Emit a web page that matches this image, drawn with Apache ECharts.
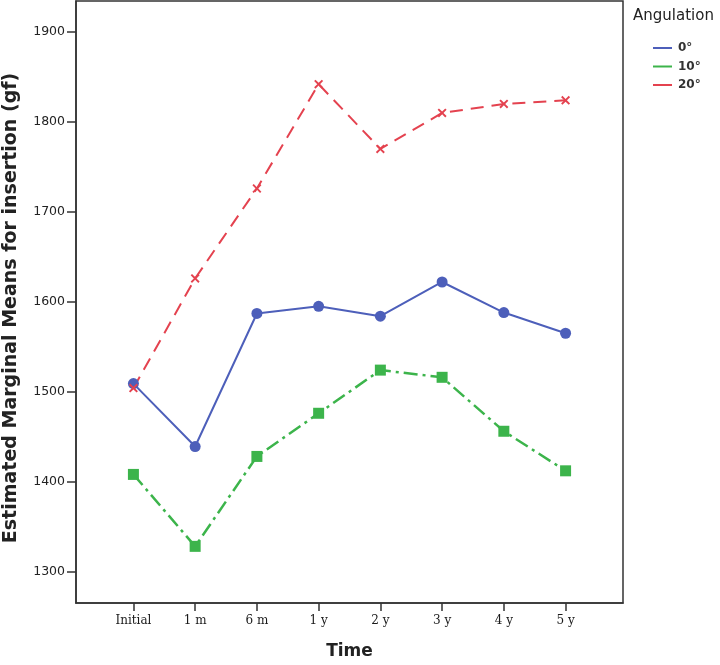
<!DOCTYPE html>
<html>
<head>
<meta charset="utf-8">
<script src="https://cdn.jsdelivr.net/npm/echarts@6/dist/echarts.min.js"></script>
<style>
html,body{margin:0;padding:0;background:#fff;}
#chart{width:720px;height:665px;}
</style>
</head>
<body>
<div id="chart"></div>
<script>
const categories = ['Initial', '1 m', '6 m', '1 y', '2 y', '3 y', '4 y', '5 y'];
const seriesNames = ['0°', '10°', '20°'];
const angle0 = [1509, 1439, 1587, 1595, 1584, 1622, 1588, 1565];
const angle10 = [1408, 1328, 1428, 1476, 1524, 1516, 1456, 1412];
const angle20 = [1504, 1626, 1726, 1842, 1770, 1810, 1820, 1824];
const yTicks = [1300, 1400, 1500, 1600, 1700, 1800, 1900];
const xTitle = 'Time';
const yTitle = 'Estimated Marginal Means for insertion (gf)';
const legendTitle = 'Angulation';

const BLUE = '#4d5fba';
const GREEN = '#3cb44b';
const RED = '#e4424f';
const catIdx = categories.map((c, i) => i);
const toPairs = arr => arr.map((v, i) => [i, v]);
const X_SYMBOL = 'path://M0,1.5 L1.5,0 L5,3.5 L8.5,0 L10,1.5 L6.5,5 L10,8.5 L8.5,10 L5,6.5 L1.5,10 L0,8.5 L3.5,5 Z';

const chart = echarts.init(document.getElementById('chart'), null, {renderer: 'canvas'});
chart.setOption({
  animation: false,
  backgroundColor: '#ffffff',
  grid: {left: 76, right: 97, top: 1, bottom: 56, show: true, borderColor: '#333', borderWidth: 1.5},
  xAxis: {
    type: 'value', min: -0.93, max: 7.93,
    splitLine: {show: false},
    axisLine: {show: true, onZero: false, lineStyle: {color: '#333', width: 1.5}},
    axisTick: {show: true, inside: false, length: 8, customValues: catIdx, lineStyle: {color: '#333', width: 1.5}},
    axisLabel: {customValues: catIdx, formatter: v => categories[Math.round(v)], margin: 12,
      fontFamily: 'DejaVu Serif', fontSize: 12, color: '#1a1a1a'},
    name: xTitle, nameLocation: 'middle', nameGap: 40,
    nameTextStyle: {fontFamily: 'DejaVu Sans', fontWeight: 'bold', fontSize: 17, color: '#222'}
  },
  yAxis: {
    type: 'value', min: 1265, max: 1934.5,
    splitLine: {show: false},
    axisLine: {show: true, onZero: false, lineStyle: {color: '#333', width: 1.5}},
    axisTick: {show: true, inside: false, length: 9, customValues: yTicks, lineStyle: {color: '#333', width: 1.5}},
    axisLabel: {customValues: yTicks, formatter: v => String(v), margin: 11,
      fontFamily: 'DejaVu Sans', fontSize: 12.5, color: '#222'}
  },
  legend: {
    orient: 'vertical', left: 648, top: 37, icon: 'rect', itemWidth: 19, itemHeight: 2, itemGap: 6.5,
    data: seriesNames,
    textStyle: {fontFamily: 'DejaVu Sans', fontWeight: 'bold', fontSize: 12, color: '#333', lineHeight: 12, padding: [0, 0, 0, 1]}
  },
  graphic: [
    {type: 'text', x: 11, y: 308, rotation: Math.PI / 2,
      style: {text: yTitle, fontFamily: 'DejaVu Sans', fontWeight: 'bold', fontSize: 19, fill: '#222', align: 'center', verticalAlign: 'middle'}},
    {type: 'text', left: 633, top: 9,
      style: {text: legendTitle, fontFamily: 'DejaVu Sans', fontSize: 15, fill: '#222'}}
  ],
  series: [
    {name: seriesNames[0], type: 'line', data: toPairs(angle0), symbol: 'circle', symbolSize: 11,
      itemStyle: {color: BLUE}, lineStyle: {color: BLUE, width: 2}},
    {name: seriesNames[1], type: 'line', data: toPairs(angle10), symbol: 'rect', symbolSize: 11,
      itemStyle: {color: GREEN}, lineStyle: {color: GREEN, width: 2.5, type: [14, 5, 3, 5]}},
    {name: seriesNames[2], type: 'line', data: toPairs(angle20), symbol: X_SYMBOL, symbolSize: 9,
      itemStyle: {color: RED}, lineStyle: {color: RED, width: 2, type: [13, 8]}}
  ]
});
</script>
</body>
</html>
